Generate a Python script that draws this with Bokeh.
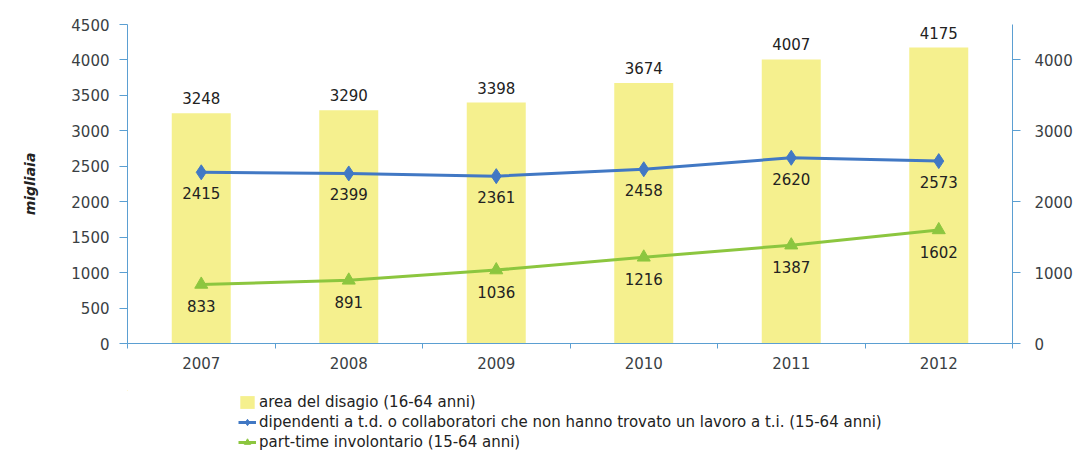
from bokeh.plotting import figure
from bokeh.layouts import column
from bokeh.models import (ColumnDataSource, Range1d, LinearAxis, FixedTicker,
                          Legend, LegendItem)
from bokeh.embed import file_html
from bokeh.resources import INLINE
from bokeh.core.properties import value

years = ["2007", "2008", "2009", "2010", "2011", "2012"]
area_disagio = [3248, 3290, 3398, 3674, 4007, 4175]
dipendenti_td = [2415, 2399, 2361, 2458, 2620, 2573]
part_time = [833, 891, 1036, 1216, 1387, 1602]

left_ticks = [0, 500, 1000, 1500, 2000, 2500, 3000, 3500, 4000, 4500]
right_ticks = [0, 1000, 2000, 3000, 4000]

series_names = ["area del disagio (16-64 anni)",
                "dipendenti a t.d. o collaboratori che non hanno trovato un lavoro a t.i. (15-64 anni)",
                "part-time involontario (15-64 anni)"]

FONT = "DejaVu Sans"
AXIS_COLOR = "#5B9FD2"
TICK_TEXT = "#3a3f44"
BAR_COLOR = "#F5F08E"
BLUE = "#4178C4"
GREEN = "#8CC63F"

xs = [i + 0.5 for i in range(len(years))]
src = ColumnDataSource(dict(
    x=xs, year=years,
    area=area_disagio, area_t=[str(v) for v in area_disagio],
    dip=dipendenti_td, dip_t=[str(v) for v in dipendenti_td],
    pt=part_time, pt_t=[str(v) for v in part_time],
))

p = figure(width=1085, height=390, output_backend="svg", toolbar_location=None,
           x_range=Range1d(0, len(years)), y_range=Range1d(0, 4500),
           min_border_left=127, min_border_right=73, min_border_top=24,
           min_border_bottom=47)
p.outline_line_color = None
p.grid.grid_line_color = None
p.background_fill_color = "white"
p.border_fill_color = "white"


def draw_series(fig, source):
    b = fig.vbar(x="x", top="area", width=0.4, bottom=0, source=source,
                 fill_color=BAR_COLOR, line_color=None)
    a1 = fig.line(x="x", y="dip", source=source, line_color=BLUE, line_width=3)
    a2 = fig.scatter(x="x", y="dip", source=source, marker="diamond", size=15,
                     fill_color=BLUE, line_color=BLUE)
    c1 = fig.line(x="x", y="pt", source=source, line_color=GREEN, line_width=3)
    c2 = fig.scatter(x="x", y="pt", source=source, marker="triangle", size=13,
                     fill_color=GREEN, line_color=GREEN)
    return b, a1, a2, c1, c2


draw_series(p, src)

lbl = dict(text_font=value(FONT), text_font_size="15px", text_color="#222222",
           text_align="center", text_baseline="middle")
p.text(x="x", y="area", text="area_t", source=src, y_offset=-15, **lbl)
p.text(x="x", y="dip", text="dip_t", source=src, y_offset=21, **lbl)
p.text(x="x", y="pt", text="pt_t", source=src, y_offset=22, **lbl)

# x axis: labels at category centres, small ticks at the boundaries
xa = p.xaxis[0]
xa.ticker = FixedTicker(ticks=xs, minor_ticks=list(range(len(years) + 1)))
xa.major_label_overrides = {x: y for x, y in zip(xs, years)}
xa.major_tick_out = 0
xa.major_tick_in = 0
xa.minor_tick_out = 5
xa.minor_tick_in = 0
xa.axis_line_color = AXIS_COLOR
xa.minor_tick_line_color = AXIS_COLOR
xa.major_label_text_font = FONT
xa.major_label_text_font_size = "15px"
xa.major_label_text_color = TICK_TEXT
xa.major_label_standoff = 8

ya = p.yaxis[0]
ya.ticker = FixedTicker(ticks=left_ticks)
ya.minor_tick_line_color = None
ya.major_tick_out = 8
ya.major_tick_in = 0
ya.axis_line_color = AXIS_COLOR
ya.major_tick_line_color = AXIS_COLOR
ya.major_label_text_font = FONT
ya.major_label_text_font_size = "15px"
ya.major_label_text_color = TICK_TEXT
ya.major_label_standoff = 10
ya.axis_label = "migliaia"
ya.axis_label_text_font = FONT
ya.axis_label_text_font_size = "14px"
ya.axis_label_text_font_style = "bold italic"
ya.axis_label_text_color = "#222222"
ya.axis_label_standoff = 30

p.extra_y_ranges = {"right": Range1d(0, 4500)}
ra = LinearAxis(y_range_name="right", ticker=FixedTicker(ticks=right_ticks))
ra.minor_tick_line_color = None
ra.major_tick_out = 8
ra.major_tick_in = 0
ra.axis_line_color = AXIS_COLOR
ra.major_tick_line_color = AXIS_COLOR
ra.major_label_text_font = FONT
ra.major_label_text_font_size = "15px"
ra.major_label_text_color = TICK_TEXT
ra.major_label_standoff = 14
p.add_layout(ra, "right")

# legend strip below the chart (its glyphs lie outside its visible range)
p2 = figure(width=1085, height=60, output_backend="svg", toolbar_location=None,
            x_range=Range1d(100, 101), y_range=Range1d(-100000, -99999),
            x_axis_location=None, y_axis_location=None, min_border=0)
p2.outline_line_color = None
p2.grid.grid_line_color = None
b, a1, a2, c1, c2 = draw_series(p2, src)

legend = Legend(items=[
    LegendItem(label=series_names[0], renderers=[b]),
    LegendItem(label=series_names[1], renderers=[a1, a2]),
    LegendItem(label=series_names[2], renderers=[c1, c2]),
], orientation="vertical", location=(111, -1))
legend.label_text_font = FONT
legend.label_text_font_size = "15px"
legend.label_text_color = "#222222"
legend.glyph_width = 18
legend.glyph_height = 16
legend.label_standoff = 3
legend.spacing = 2
legend.padding = 0
legend.margin = 0
legend.border_line_color = None
legend.background_fill_alpha = 0
legend.label_height = 16
p2.add_layout(legend, "center")

open("out.html", "w").write(file_html(column(p, p2, spacing=0), INLINE))
